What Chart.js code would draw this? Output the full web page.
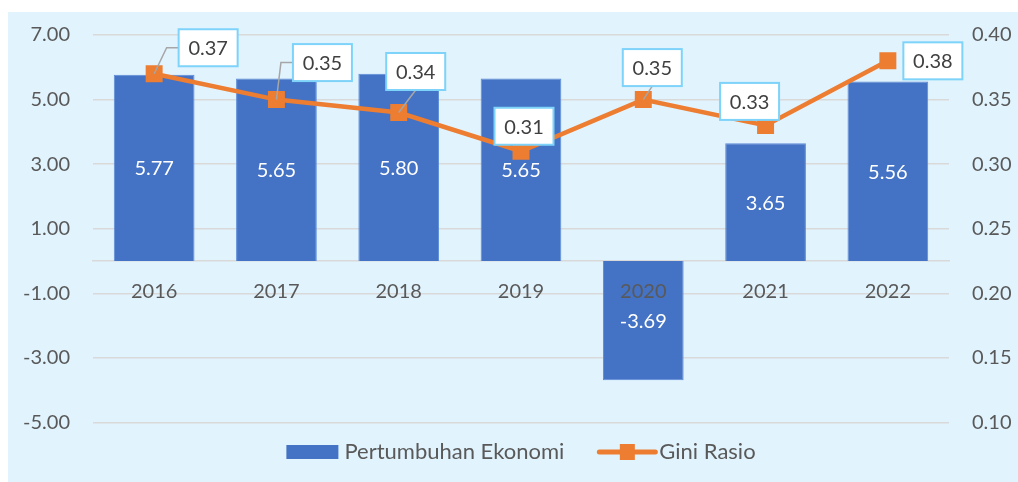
<!DOCTYPE html>
<html>
<head>
<meta charset="utf-8">
<script src="https://cdn.jsdelivr.net/npm/chart.js@4.4.0/dist/chart.umd.min.js"></script>
<style>
  html, body { margin: 0; padding: 0; background: #fff; }
  canvas { display: block; }
</style>
</head>
<body>
<canvas id="giniChart" width="1018" height="482"></canvas>
<script>
// ── DATA ───────────────────────────────────────────────────────
const YEARS  = ['2016', '2017', '2018', '2019', '2020', '2021', '2022'];
const GROWTH = [5.77, 5.65, 5.80, 5.65, -3.69, 3.65, 5.56];   // Pertumbuhan Ekonomi (%)
const GINI   = [0.37, 0.35, 0.34, 0.31, 0.35, 0.33, 0.38];    // Gini Rasio

// axis ranges
const LEFT_AXIS  = { min: -5,  max: 7,    step: 2 };
const RIGHT_AXIS = { min: 0.1, max: 0.4,  step: 0.05 };

// label box placement for gini labels: [dx, dy, leader]
const GINI_LABEL_POS = [
  [54, -26, 'elbow'],
  [46, -37, 'elbow'],
  [17, -41, 'straight'],
  [3,  -25, null],
  [9,  -32, 'straight'],
  [-16, -24, null],
  [45,   0, null],
];

const BLUE   = '#4472C4';
const ORANGE = '#ED7D31';
const TEXT   = '#595959';
const GRID   = '#d9d9d9';
const FONT   = "Lato, 'Open Sans', sans-serif";

// ── PLUGINS ────────────────────────────────────────────────────
const bgPlugin = {
  id: 'bg',
  beforeDraw(chart) {
    const { ctx, width, height } = chart;
    ctx.save();
    ctx.fillStyle = '#ffffff';
    ctx.fillRect(0, 0, width, height);
    ctx.fillStyle = '#E1F3FD';
    ctx.fillRect(8, 12, width - 8, height - 12);
    ctx.restore();
  }
};

const labelPlugin = {
  id: 'valueLabels',
  afterDatasetsDraw(chart) {
    const { ctx } = chart;
    const xs = chart.scales.x, ys = chart.scales.y;
    ctx.save();
    ctx.font = '20px ' + FONT;
    ctx.textAlign = 'center';
    ctx.textBaseline = 'middle';

    // category labels under the zero line (drawn over the bars, like Excel)
    const zeroY = ys.getPixelForValue(0);
    ctx.fillStyle = TEXT;
    YEARS.forEach((yr, i) => {
      ctx.fillText(yr, xs.getPixelForValue(i), zeroY + 31);
    });

    // bar values, centred in the bar
    chart.getDatasetMeta(1).data.forEach((bar, i) => {
      ctx.fillStyle = '#ffffff';
      ctx.fillText(GROWTH[i].toFixed(2), bar.x, (bar.y + bar.base) / 2 + 1);
    });

    // gini values in boxes
    const W = 59, H = 37;
    chart.getDatasetMeta(0).data.forEach((pt, i) => {
      const [dx, dy, leader] = GINI_LABEL_POS[i];
      const cx = pt.x + dx, cy = pt.y + dy;
      const left = cx - W / 2, top = cy - H / 2;

      ctx.strokeStyle = '#a6a6a6';
      ctx.lineWidth = 1.5;
      if (leader === 'elbow') {
        ctx.beginPath();
        ctx.moveTo(pt.x, pt.y);
        ctx.lineTo(left - 12, cy);
        ctx.lineTo(left, cy);
        ctx.stroke();
      } else if (leader === 'straight') {
        ctx.beginPath();
        ctx.moveTo(pt.x, pt.y);
        ctx.lineTo(cx, top + H);
        ctx.stroke();
      }

      ctx.fillStyle = '#ffffff';
      ctx.fillRect(left, top, W, H);
      ctx.strokeStyle = '#7DD3FA';
      ctx.lineWidth = 2;
      ctx.strokeRect(left, top, W, H);

      ctx.fillStyle = '#404040';
      ctx.fillText(GINI[i].toFixed(2), cx, cy + 1);
    });
    ctx.restore();
  }
};

const legendPlugin = {
  id: 'customLegend',
  afterDraw(chart) {
    const { ctx, chartArea } = chart;
    const barLabel  = chart.data.datasets[1].label;
    const lineLabel = chart.data.datasets[0].label;
    ctx.save();
    ctx.font = '22px ' + FONT;
    ctx.textBaseline = 'middle';
    const w1 = ctx.measureText(barLabel).width;
    const w2 = ctx.measureText(lineLabel).width;
    const total = 52 + 6 + w1 + 35 + 56 + 4 + w2;
    let x = (chartArea.left + chartArea.right) / 2 - total / 2;
    const y = 452;

    ctx.fillStyle = BLUE;
    ctx.fillRect(x, y - 7, 52, 14);
    x += 58;
    ctx.fillStyle = TEXT;
    ctx.fillText(barLabel, x, y);
    x += w1 + 35;

    ctx.strokeStyle = ORANGE;
    ctx.lineWidth = 5;
    ctx.lineCap = 'round';
    ctx.beginPath();
    ctx.moveTo(x, y);
    ctx.lineTo(x + 56, y);
    ctx.stroke();
    ctx.fillStyle = ORANGE;
    ctx.fillRect(x + 28 - 7.5, y - 8, 15, 16);
    x += 60;
    ctx.fillStyle = TEXT;
    ctx.fillText(lineLabel, x, y);
    ctx.restore();
  }
};

// ── CHART ──────────────────────────────────────────────────────
const ctx = document.getElementById('giniChart').getContext('2d');

new Chart(ctx, {
  data: {
    labels: YEARS,
    datasets: [
      {
        type: 'line',
        label: 'Gini Rasio',
        data: GINI,
        yAxisID: 'y1',
        borderColor: ORANGE,
        borderWidth: 4.5,
        pointStyle: 'rect',
        pointRadius: 12,
        pointBackgroundColor: ORANGE,
        pointBorderWidth: 0,
        tension: 0,
        order: 0,
      },
      {
        type: 'bar',
        label: 'Pertumbuhan Ekonomi',
        data: GROWTH,
        yAxisID: 'y',
        backgroundColor: BLUE,
        borderColor: '#5B8BD8',
        borderWidth: 1,
        categoryPercentage: 1,
        barPercentage: 0.66,
        order: 1,
      }
    ]
  },
  options: {
    responsive: false,
    animation: false,
    layout: { padding: { left: 0, right: 0, top: 34, bottom: 59.5 } },
    plugins: {
      legend: { display: false },
      tooltip: { enabled: false }
    },
    scales: {
      x: {
        position: { y: 0 },
        grid: { display: false, drawTicks: false },
        border: { display: true, color: GRID, width: 1.5 },
        ticks: { display: false }
      },
      y: {
        position: 'left',
        min: LEFT_AXIS.min,
        max: LEFT_AXIS.max,
        afterFit: s => { s.width = 93; },
        grid: { color: GRID, lineWidth: 1.5, drawTicks: false },
        border: { display: false },
        ticks: {
          stepSize: LEFT_AXIS.step,
          padding: 23,
          font: { family: FONT, size: 20 },
          color: TEXT,
          callback: v => v.toFixed(2)
        }
      },
      y1: {
        position: 'right',
        min: RIGHT_AXIS.min,
        max: RIGHT_AXIS.max,
        afterFit: s => { s.width = 69; },
        grid: { display: false, drawTicks: false },
        border: { display: false },
        ticks: {
          stepSize: RIGHT_AXIS.step,
          padding: 23,
          font: { family: FONT, size: 20 },
          color: TEXT,
          callback: v => v.toFixed(2)
        }
      }
    }
  },
  plugins: [bgPlugin, labelPlugin, legendPlugin]
});
</script>
</body>
</html>
